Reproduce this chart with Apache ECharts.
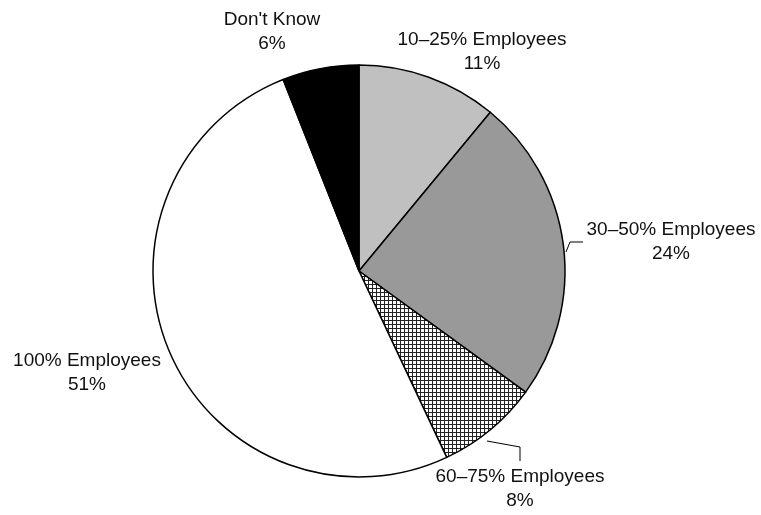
<!DOCTYPE html>
<html>
<head>
<meta charset="utf-8">
<script src="https://cdn.jsdelivr.net/npm/echarts@6/dist/echarts.min.js"></script>
<style>
  html, body { margin: 0; padding: 0; background: #fff; }
  #chart { width: 761px; height: 515px; }
</style>
</head>
<body>
<div id="chart"></div>
<script>
// Share of employees covered, clockwise from 12 o'clock
const categories = ['10–25% Employees', '30–50% Employees', '60–75% Employees', '100% Employees', "Don't Know"];
const shares = [11, 24, 8, 51, 6];

// Cross-hatch tile for the 60–75% slice
function hatchTile() {
  const c = document.createElement('canvas');
  c.width = 4; c.height = 4;
  const g = c.getContext('2d');
  g.fillStyle = '#ffffff';
  g.fillRect(0, 0, 4, 4);
  g.fillStyle = '#222222';
  g.fillRect(0, 0, 4, 1);
  g.fillRect(0, 0, 1, 4);
  return c;
}

const fills = [
  '#c0c0c0',
  '#999999',
  { image: hatchTile(), repeat: 'repeat' },
  '#ffffff',
  '#000000'
];

// Label anchor points and leader lines (pixel layout)
const labelSpots = [
  { x: 482, y: 52 },
  { x: 671, y: 242, line: [[566, 252], [570, 242], [583, 242]] },
  { x: 520, y: 489, line: [[487, 441], [520, 447], [520, 461]] },
  { x: 87, y: 373 },
  { x: 272, y: 32 }
];

const chart = echarts.init(document.getElementById('chart'), null, { renderer: 'canvas' });

chart.setOption({
  animation: false,
  backgroundColor: '#ffffff',
  series: [{
    type: 'pie',
    center: [359, 271],
    radius: 206,
    startAngle: 90,
    clockwise: true,
    avoidLabelOverlap: false,
    emphasis: { disabled: true },
    itemStyle: { borderColor: '#000', borderWidth: 1.5 },
    label: {
      show: true,
      position: 'outside',
      formatter: '{b}\n{c}%',
      fontFamily: '"Liberation Sans", Arial, sans-serif',
      fontSize: 19,
      lineHeight: 24,
      color: '#111',
      align: 'center'
    },
    labelLine: {
      show: true,
      lineStyle: { color: '#000', width: 1 }
    },
    labelLayout: function (p) {
      const s = labelSpots[p.dataIndex];
      const out = { x: s.x, y: s.y, align: 'center', verticalAlign: 'middle' };
      out.labelLinePoints = s.line ? s.line : [[s.x, s.y], [s.x, s.y], [s.x, s.y]];
      return out;
    },
    data: categories.map((name, i) => ({
      name: name,
      value: shares[i],
      itemStyle: { color: fills[i] },
      labelLine: { show: !!labelSpots[i].line }
    }))
  }]
});
</script>
</body>
</html>
